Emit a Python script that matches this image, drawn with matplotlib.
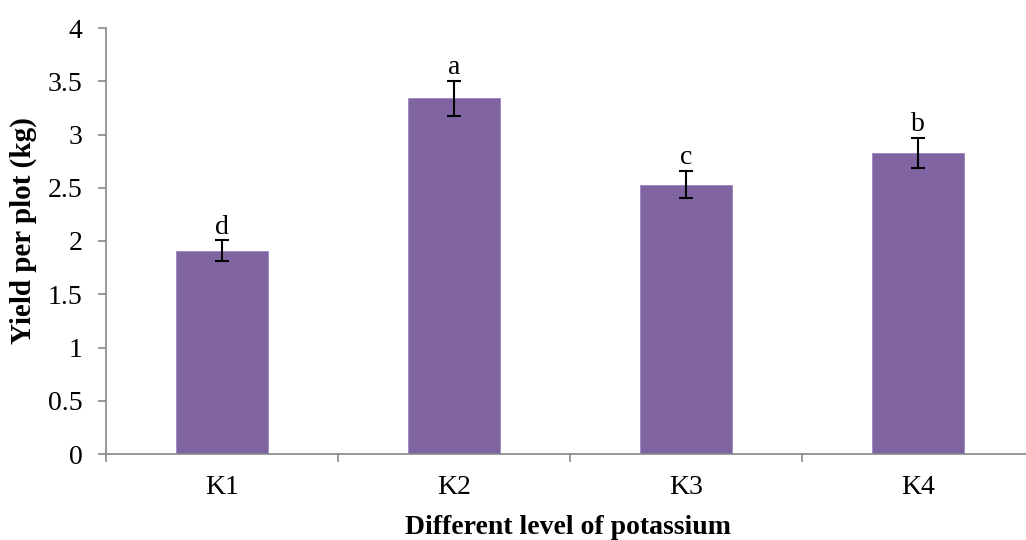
import matplotlib
matplotlib.use("Agg")
import matplotlib.pyplot as plt
import numpy as np

categories = ["K1", "K2", "K3", "K4"]
values = [1.91, 3.34, 2.53, 2.83]
errors = [0.095, 0.165, 0.13, 0.14]
letters = ["d", "a", "c", "b"]
yticks = [0, 0.5, 1, 1.5, 2, 2.5, 3, 3.5, 4]
ytick_labels = ["0", "0.5", "1", "1.5", "2", "2.5", "3", "3.5", "4"]

plt.rcParams['font.family'] = ['Liberation Serif', 'DejaVu Serif']
axis_color = "#868686"

fig = plt.figure(figsize=(10.26, 5.40), dpi=100)
W, H = 1026, 540
left, right = 106 / W, 1.0
bottom, top = (H - 454) / H, (H - 28) / H
ax = fig.add_axes([left, bottom, right - left, top - bottom])

x = np.arange(len(categories))
ax.bar(x, values, width=0.4, color="#8064A2", edgecolor="#9c86bb", linewidth=0.6, zorder=2)
ax.errorbar(x, values, yerr=errors, fmt="none", ecolor="black", elinewidth=1.5,
            capsize=5, capthick=1.5, zorder=3)
for xi, v, e, lab in zip(x, values, errors, letters):
    ax.text(xi, v + e + 0.065, lab, ha="center", va="baseline", fontsize=20)

ax.set_ylim(0, 4)
ax.set_xlim(-0.5, (1026 - 106) / 232 - 0.5)
ax.set_yticks(yticks)
ax.set_yticklabels(ytick_labels, fontsize=20)
ax.set_xticks(x)
ax.set_xticklabels(categories, fontsize=20)
ax.set_xticks([-0.5, 0.5, 1.5, 2.5], minor=True)
ax.tick_params(axis="x", which="major", length=0, pad=15)
ax.tick_params(axis="x", which="minor", length=6, color=axis_color, width=1.2, direction="out")
ax.tick_params(axis="y", length=6, color=axis_color, width=1.2, direction="out", pad=11)

for s in ["top", "right"]:
    ax.spines[s].set_visible(False)
for s in ["left", "bottom"]:
    ax.spines[s].set_color(axis_color)
    ax.spines[s].set_linewidth(1.2)

ax.set_ylabel("Yield per plot (kg)", fontsize=21, fontweight="bold")
ax.set_xlabel("Different level of potassium", fontsize=20, fontweight="bold")
ax.xaxis.set_label_coords((568 - 106) / (1026 - 106), -(528 - 454) / (454 - 28))
ax.yaxis.set_label_coords(-(106 - 23) / (1026 - 106), (454 - 231) / (454 - 28))
ax.xaxis.label.set_va("center")
ax.yaxis.label.set_va("center")

fig.savefig("out.png", dpi=100)
